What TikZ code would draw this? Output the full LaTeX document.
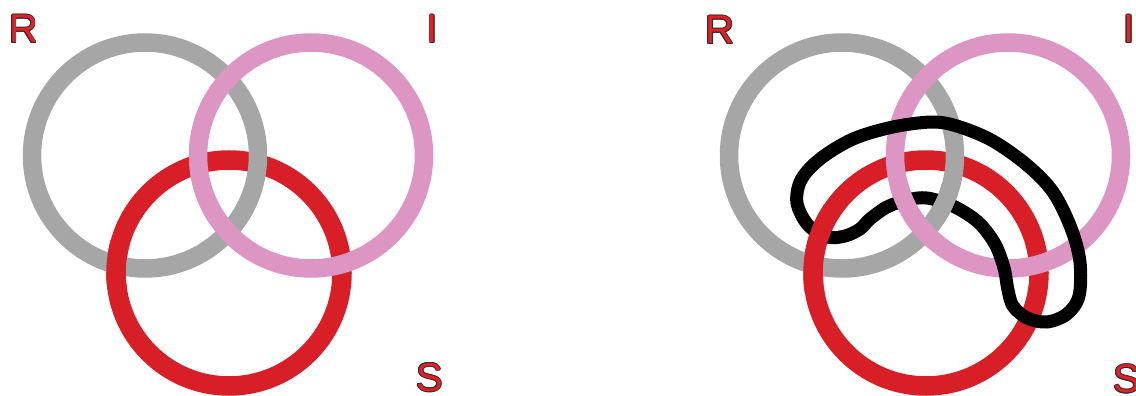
\documentclass[tikz,border=0pt]{standalone}
\usepackage{fontspec}
\setmainfont{Liberation Sans}
\definecolor{ringgray}{RGB}{167,166,166}
\definecolor{ringpink}{RGB}{221,150,196}
\definecolor{ringred}{RGB}{216,30,38}
\definecolor{letfill}{RGB}{226,32,40}
\definecolor{letline}{RGB}{55,40,40}
\newcommand{\shcopy}[3]{\rlap{\hspace*{#1}\raisebox{#2}{\color{letline}#3}}}
\newcommand{\outl}[1]{%
  \shcopy{0.9pt}{0pt}{#1}\shcopy{-0.9pt}{0pt}{#1}%
  \shcopy{0pt}{0.9pt}{#1}\shcopy{0pt}{-0.9pt}{#1}%
  \shcopy{0.64pt}{0.64pt}{#1}\shcopy{-0.64pt}{0.64pt}{#1}%
  \shcopy{0.64pt}{-0.64pt}{#1}\shcopy{-0.64pt}{-0.64pt}{#1}%
  {\color{letfill}#1}}
\tikzset{
  graying/.style={draw=ringgray, line width=18.5pt},
  pinkring/.style={draw=ringpink, line width=18.5pt},
  redring/.style={draw=ringred, line width=19.5pt},
  sinthome/.style={draw=black, line width=13pt, line join=round},
  letter/.style={inner sep=0pt, font=\fontsize{40}{40}\selectfont}
}
\newcommand{\sinthomepath}{plot[smooth cycle, tension=0.55] coordinates {
 (933,122) (960,127) (993,141) (1027,165) (1053,192) (1071,228) (1080,262)
 (1079,296) (1067,314) (1047,322) (1027,318) (1013,306) (1008,290) (1004,268)
 (995,244) (978,222) (953,206) (927,198) (907,200) (887,207) (870,219)
 (860,229) (845,236) (827,237) (808,225) (797,203) (801,180) (820,159)
 (853,139) (893,127)}}
\begin{document}
\begin{tikzpicture}[x=1pt,y=-1pt]
\useasboundingbox (0,0) rectangle (1136,396);
% ---------- left knot ----------
\coordinate (gL) at (145,155.5);
\coordinate (pL) at (311,155.5);
\coordinate (rL) at (229,273);
\draw[redring] (rL) circle[radius=113pt];
\draw[graying] (gL) circle[radius=113pt];
\draw[pinkring] (pL) circle[radius=113pt];
\begin{scope}
  \clip (116.3,264.8) circle[radius=26pt];
  \draw[redring] (rL) circle[radius=113pt];
\end{scope}
\node[letter] (Rl) at (23.5,29) {\outl{R}};
\node[letter] (Il) at (432.5,29) {\outl{I}};
\node[letter] (Sl) at (429.5,377.5) {\outl{S}};
% ---------- right knot with sinthome ----------
\coordinate (gR) at (842,155.5);
\coordinate (pR) at (1008,155.5);
\coordinate (rR) at (926,273);
\draw[redring] (rR) circle[radius=113pt];
\draw[graying] (gR) circle[radius=113pt];
\draw[pinkring] (pR) circle[radius=113pt];
\draw[sinthome] \sinthomepath;
\begin{scope}
  \clip (780,205) rectangle (850,292);
  \draw[redring] (rR) circle[radius=113pt];
\end{scope}
\begin{scope}
  \clip (942,204) circle[radius=20pt];
  \draw[graying] (gR) circle[radius=113pt];
\end{scope}
\begin{scope}
  \clip (915,215) circle[radius=36pt];
  \draw[pinkring] (pR) circle[radius=113pt];
\end{scope}
\node[letter] (Rr) at (720,30) {\outl{R}};
\node[letter] (Ir) at (1129,29) {\outl{I}};
\node[letter] (Sr) at (1126.5,379) {\outl{S}};
\end{tikzpicture}
\end{document}
